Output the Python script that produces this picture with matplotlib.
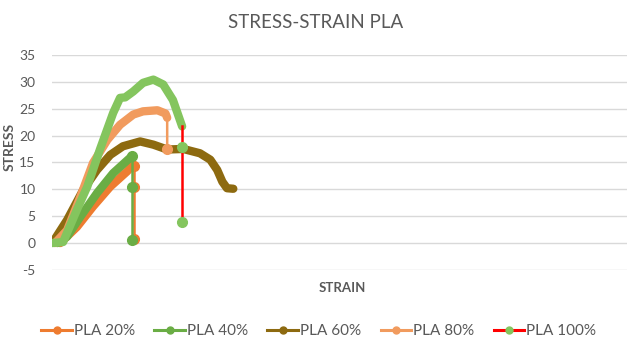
import matplotlib.pyplot as plt

plt.rcParams['font.family'] = ['Lato', 'DejaVu Sans']
plt.rcParams['axes.unicode_minus'] = False

# strain (arbitrary units along the category axis) and stress
x20 = [1.4, 4.3, 7.1, 10.1, 13.0, 14.1, 14.3, 14.3, 14.3]
y20 = [0.0, 3.0, 6.8, 10.5, 13.3, 14.6, 14.4, 10.4, 0.8]

x40 = [0.9, 2.6, 4.9, 7.8, 10.6, 13.9, 13.9, 13.9]
y40 = [0.0, 1.2, 4.9, 9.3, 13.0, 16.2, 10.4, 0.6]

x60 = [0.2, 2.6, 5.4, 7.8, 10.1, 12.3, 15.3, 17.6, 20.0, 22.8, 25.7, 27.5, 28.7, 29.6, 30.4, 31.5]
y60 = [0.3, 4.3, 9.9, 13.6, 16.4, 18.0, 18.9, 18.3, 17.4, 17.5, 16.7, 15.5, 13.6, 11.4, 10.2, 10.1]

x80 = [0.5, 2.6, 4.9, 7.1, 9.6, 11.8, 14.1, 15.8, 18.3, 19.7, 20.0, 20.0]
y80 = [0.0, 2.4, 8.6, 14.9, 19.2, 22.0, 23.9, 24.5, 24.7, 24.1, 23.3, 17.5]

x100 = [0.0, 1.9, 4.3, 6.1, 8.3, 10.6, 11.8, 12.7, 14.1, 15.8, 17.6, 19.3, 21.0, 22.6, 22.6, 22.6]
y100 = [0.0, 0.2, 6.2, 10.5, 17.4, 24.2, 27.0, 27.1, 28.2, 29.8, 30.4, 29.5, 26.6, 21.7, 17.9, 3.9]

labels = ['PLA 20%', 'PLA 40%', 'PLA 60%', 'PLA 80%', 'PLA 100%']

c20 = '#EE7C30'
c40 = '#6AAD45'
c60 = '#8D6A10'
c80 = '#F19B5E'
c100 = '#84C55E'
gray = '#595959'

fig = plt.figure(figsize=(6.29, 3.43), dpi=100)
ax = fig.add_axes([0.083, 0.213, 0.914, 0.627])

thick = dict(lw=6, solid_capstyle='round', solid_joinstyle='round')
ms = 7

# PLA 20%
ax.plot(x20[:-2], y20[:-2], color=c20, **thick)
ax.plot(x20[-3:], y20[-3:], color=c20, lw=1.8, marker='o', ms=ms)
# PLA 40%
ax.plot(x40[:-2], y40[:-2], color=c40, **thick)
ax.plot(x40[-3:], y40[-3:], color=c40, lw=1.8, marker='o', ms=ms)
# PLA 60%
ax.plot(x60, y60, color=c60, **thick)
# PLA 80%
ax.plot(x80[:-1], y80[:-1], color=c80, **thick)
ax.plot(x80[-3:], y80[-3:], color=c80, lw=1.8, marker='o', ms=ms, markevery=[2])
# PLA 100% (red line, green markers)
ax.plot(x100[:-2], y100[:-2], color=c100, **thick)
ax.plot(x100[-3:], y100[-3:], color='#FF0000', lw=1.8, marker='o', ms=ms,
        mfc=c100, mec=c100, markevery=[1, 2])

# legend handles
h = []
for col, mc in zip([c20, c40, c60, c80, '#FF0000'], [c20, c40, c60, c80, c100]):
    h.append(plt.Line2D([], [], color=col, lw=2.2, marker='o', ms=5, mfc=mc, mec=mc))
fig.legend(h, labels, ncol=5, loc='center', bbox_to_anchor=(0.507, 0.035),
           frameon=False, fontsize=11, handlelength=2.0, handletextpad=0.15,
           columnspacing=1.25, labelcolor=gray)

ax.set_xlim(0, 100)
ax.set_ylim(-5, 35)
ax.set_yticks(range(-5, 36, 5))
ax.set_xticks([])
ax.grid(axis='y', color='#D9D9D9', lw=1)
ax.set_axisbelow(True)
for s in ax.spines.values():
    s.set_visible(False)
ax.tick_params(axis='y', length=0, labelsize=10, labelcolor=gray, pad=12)

fig.text(0.502, 0.935, 'STRESS-STRAIN PLA', fontsize=13.5, color=gray,
         ha='center', va='center')
ax.set_ylabel('STRESS', fontsize=10, color=gray, fontweight='bold')
ax.yaxis.set_label_coords(-0.063, 0.57)
ax.set_xlabel('STRAIN', fontsize=9.5, color=gray, fontweight='bold')
ax.xaxis.set_label_coords(0.504, -0.055)

fig.savefig('out.png', dpi=100)
